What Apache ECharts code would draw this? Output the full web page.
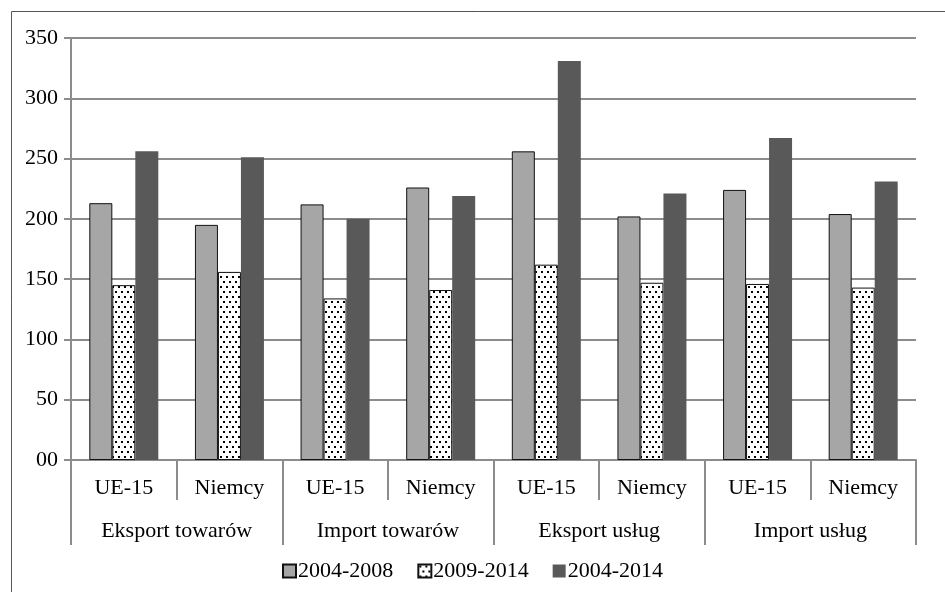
<!DOCTYPE html>
<html>
<head>
<meta charset="utf-8">
<script src="https://cdn.jsdelivr.net/npm/echarts@6/dist/echarts.min.js"></script>
<style>html,body{margin:0;padding:0;background:#fff}#c{width:945px;height:592px}</style>
</head>
<body>
<div id="c"></div>
<script>
var subCategories = ['UE-15','Niemcy','UE-15','Niemcy','UE-15','Niemcy','UE-15','Niemcy'];
var groupCategories = ['Eksport towarów','Import towarów','Eksport usług','Import usług'];
var seriesNames = ['2004-2008','2009-2014','2004-2014'];
var values2004_2008 = [213,195,212,226,256,202,224,204];
var values2009_2014 = [145,156,134,141,162,147,146,143];
var values2004_2014 = [256,251,200,219,331,221,267,231];
var yTicks = [0,50,100,150,200,250,300,350];

var pc = document.createElement('canvas');
pc.width = 6; pc.height = 10;
var g = pc.getContext('2d');
g.fillStyle = '#fff'; g.fillRect(0,0,6,10);
g.fillStyle = '#000';
g.fillRect(1,1,2,2); g.fillRect(4,6,2,2);
var dotPattern = {image: pc, repeat: 'repeat'};

var font = "'Liberation Serif', 'DejaVu Serif', 'Times New Roman', serif";
var chart = echarts.init(document.getElementById('c'), null, {renderer:'canvas'});
chart.setOption({
  animation: false,
  backgroundColor: '#fff',
  graphic: [{type:'rect', shape:{x:11.5,y:11.5,width:1000,height:1000}, style:{fill:'none',stroke:'#555',lineWidth:1}, z:100}],
  grid: {left:71, right:29, top:38, bottom:132},
  legend: {
    bottom: 5, left: 'center', itemWidth: 13, itemHeight: 13, itemGap: 24,
    icon: 'rect',
    textStyle: {fontFamily: font, fontSize: 22, color:'#000', padding:[0,0,0,-3]},
    data: seriesNames
  },
  xAxis: [{
    type:'category', data: subCategories, position:'bottom',
    axisLine:{show:true, lineStyle:{color:'#8c8c8c', width:2}},
    axisTick:{show:true, interval:0, length:40, lineStyle:{color:'#8c8c8c', width:2}},
    axisLabel:{interval:0, margin:17, fontFamily:font, fontSize:22, color:'#000'}
  },{
    type:'category', data: groupCategories, position:'bottom',
    axisLine:{show:false},
    axisTick:{show:true, interval:0, length:85, lineStyle:{color:'#8c8c8c', width:2}},
    axisLabel:{interval:0, margin:60, fontFamily:font, fontSize:22, color:'#000'}
  }],
  yAxis: {
    type:'value', min:0, max:350, interval:50,
    axisLine:{show:true, lineStyle:{color:'#8c8c8c', width:2}},
    axisTick:{show:true, length:7, lineStyle:{color:'#8c8c8c', width:2}},
    splitLine:{show:true, lineStyle:{color:'#8c8c8c', width:2}},
    axisLabel:{margin:13, fontFamily:font, fontSize:22, color:'#000',
      formatter:function(v){return v===0?'00':String(v);}}
  },
  series: [
    {name:seriesNames[0], type:'bar', data:values2004_2008, barWidth:23, barGap:'0%',
      itemStyle:{color:'#a6a6a6', borderColor:'#111', borderWidth:1}},
    {name:seriesNames[1], type:'bar', data:values2009_2014, barWidth:23, barGap:'0%',
      itemStyle:{color:dotPattern, borderColor:'#111', borderWidth:1}},
    {name:seriesNames[2], type:'bar', data:values2004_2014, barWidth:23, barGap:'0%',
      itemStyle:{color:'#595959', borderColor:'#595959', borderWidth:0}}
  ]
});
</script>
</body>
</html>
